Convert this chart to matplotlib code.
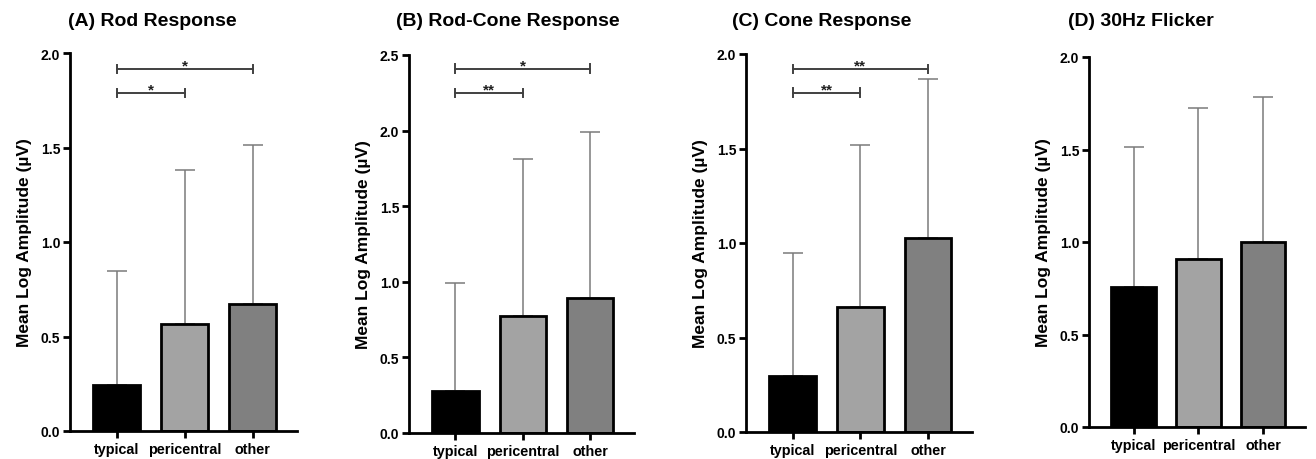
import matplotlib
matplotlib.use("Agg")
import matplotlib.pyplot as plt
import numpy as np

plt.rcParams['font.family'] = ['Liberation Sans', 'DejaVu Sans']
plt.rcParams['font.weight'] = 'bold'

categories = ["typical", "pericentral", "other"]
bar_colors = ["#000000", "#a3a3a3", "#808080"]

titles = ["(A) Rod Response", "(B) Rod-Cone Response", "(C) Cone Response", "(D) 30Hz Flicker"]

rod_means = [0.245, 0.566, 0.672]
rod_upper = [0.848, 1.383, 1.513]
rodcone_means = [0.277, 0.771, 0.892]
rodcone_upper = [0.991, 1.813, 1.989]
cone_means = [0.294, 0.662, 1.028]
cone_upper = [0.947, 1.518, 1.866]
flicker_means = [0.757, 0.910, 0.998]
flicker_upper = [1.515, 1.726, 1.782]

ymaxes = [2.0, 2.5, 2.0, 2.0]
ytick_steps = [0.5, 0.5, 0.5, 0.5]

# significance: (i, j, level, label)
rod_sig = [(0, 1, 1.79, "*"), (0, 2, 1.917, "*")]
rodcone_sig = [(0, 1, 2.25, "**"), (0, 2, 2.41, "*")]
cone_sig = [(0, 1, 1.796, "**"), (0, 2, 1.92, "**")]
flicker_sig = []

means_all = [rod_means, rodcone_means, cone_means, flicker_means]
upper_all = [rod_upper, rodcone_upper, cone_upper, flicker_upper]
sig_all = [rod_sig, rodcone_sig, cone_sig, flicker_sig]

W, H = 1316, 460
fig = plt.figure(figsize=(W / 100, H / 100), dpi=100)

# pixel boxes: left, right, top, bottom
boxes = [(70, 297, 54, 432), (409, 634, 56, 434), (746, 972, 55, 433), (1089, 1305, 58, 428)]
title_x = [152, 508, 822, 1141]

for k in range(4):
    l, r, t, b = boxes[k]
    ax = fig.add_axes([l / W, 1 - b / H, (r - l) / W, (b - t) / H])
    x = np.arange(len(categories))
    means = np.array(means_all[k])
    upper = np.array(upper_all[k])
    ax.errorbar(x, means, yerr=[np.zeros_like(means), upper - means], fmt='none',
                ecolor='#7a7a7a', elinewidth=1.1, capsize=7.5, capthick=1.1, zorder=1)
    ax.bar(x, means, width=0.69, color=bar_colors, edgecolor='black', linewidth=2.0, zorder=2)
    ax.set_ylim(0, ymaxes[k])
    ax.set_xlim(-0.69, 2.65)
    ax.set_yticks(np.arange(0, ymaxes[k] + 1e-9, ytick_steps[k]))
    ax.set_yticklabels([f"{v:.1f}" for v in np.arange(0, ymaxes[k] + 1e-9, ytick_steps[k])])
    ax.set_xticks(x)
    ax.set_xticklabels(categories)
    for s in ['top', 'right']:
        ax.spines[s].set_visible(False)
    for s in ['left', 'bottom']:
        ax.spines[s].set_linewidth(2.0)
    ax.tick_params(axis='both', width=2.0, length=5, direction='out')
    ax.tick_params(axis='y', labelsize=10, pad=2)
    ax.tick_params(axis='x', labelsize=10.4, pad=3)
    for lab in ax.get_xticklabels() + ax.get_yticklabels():
        lab.set_fontweight('bold')
    ax.set_ylabel("Mean Log Amplitude (µV)", fontsize=12.5, fontweight='bold', labelpad=6)
    tick = 0.022 * ymaxes[k]
    for (i, j, lev, lab) in sig_all[k]:
        ax.plot([i, j], [lev, lev], color='#404040', lw=1.4, clip_on=False, zorder=3)
        ax.plot([i, i], [lev - tick / 2, lev + tick / 2], color='#404040', lw=1.4, clip_on=False)
        ax.plot([j, j], [lev - tick / 2, lev + tick / 2], color='#404040', lw=1.4, clip_on=False)
        ax.text((i + j) / 2, lev - 0.01 * ymaxes[k], lab, ha='center', va='bottom',
                fontsize=11, fontweight='bold', color='#202020')
    fig.text(title_x[k] / W, 1 - 21 / H, titles[k], ha='center', va='center',
             fontsize=14, fontweight='bold')

fig.savefig("out.png", dpi=100, facecolor='white')
